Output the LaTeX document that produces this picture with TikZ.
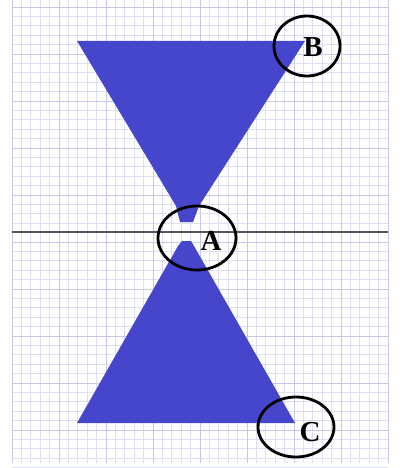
\documentclass[tikz,border=0pt]{standalone}
\usepackage{fontspec}
\setmainfont{Liberation Serif}
\definecolor{gridminor}{RGB}{222,222,245}
\definecolor{gridmajor}{RGB}{200,200,235}
\definecolor{shapeblue}{RGB}{70,70,205}
\definecolor{axisgray}{RGB}{85,85,100}
\tikzset{
  lbl/.style={font=\fontsize{29}{29}\selectfont\bfseries, inner sep=0pt},
  ring/.style={draw=black, line width=2.8pt},
  fillshape/.style={fill=shapeblue, draw=none},
}
\begin{document}
\begin{tikzpicture}[x=1pt,y=-1pt]
\useasboundingbox (0,0) rectangle (403,468);
\fill[white] (0,0) rectangle (403,468);
% grid
\foreach \i in {0,...,40}{
  \pgfmathsetmacro\xx{12+\i*9.4}
  \draw[gridminor, line width=0.8pt] (\xx,0) -- (\xx,463);
}
\foreach \j in {0,...,49}{
  \pgfmathsetmacro\yy{7+\j*9.4}
  \draw[gridminor, line width=0.8pt] (12,\yy) -- (388,\yy);
}
\foreach \i in {0,5,...,40}{
  \pgfmathsetmacro\xx{12+\i*9.4}
  \draw[gridmajor, line width=0.9pt] (\xx,0) -- (\xx,463);
}
\foreach \j in {0,5,...,45}{
  \pgfmathsetmacro\yy{7+\j*9.4}
  \draw[gridmajor, line width=0.9pt] (12,\yy) -- (388,\yy);
}
% axis line
\coordinate (axL) at (12,232);
\coordinate (axR) at (388,232);
\draw[axisgray, line width=1.3pt] (axL) -- (axR);
% upper shape
\fill[fillshape] (77,41) -- (305,41) -- (199,206) -- (193,222) -- (180,222) -- (176,206) -- cycle;
% lower shape
\fill[fillshape] (182,241) -- (191,241) -- (194,246) -- (295,423) -- (77,423) -- (178,246) -- cycle;
% rings
\draw[ring] (197,238) ellipse [x radius=39, y radius=32];
\draw[ring] (307,46) ellipse [x radius=33, y radius=30];
\draw[ring] (296,427) ellipse [x radius=38, y radius=30];
% labels
\node[lbl] (A) at (211,241) {A};
\node[lbl] (B) at (313,47) {B};
\node[lbl] (C) at (310,432) {C};
\end{tikzpicture}
\end{document}
